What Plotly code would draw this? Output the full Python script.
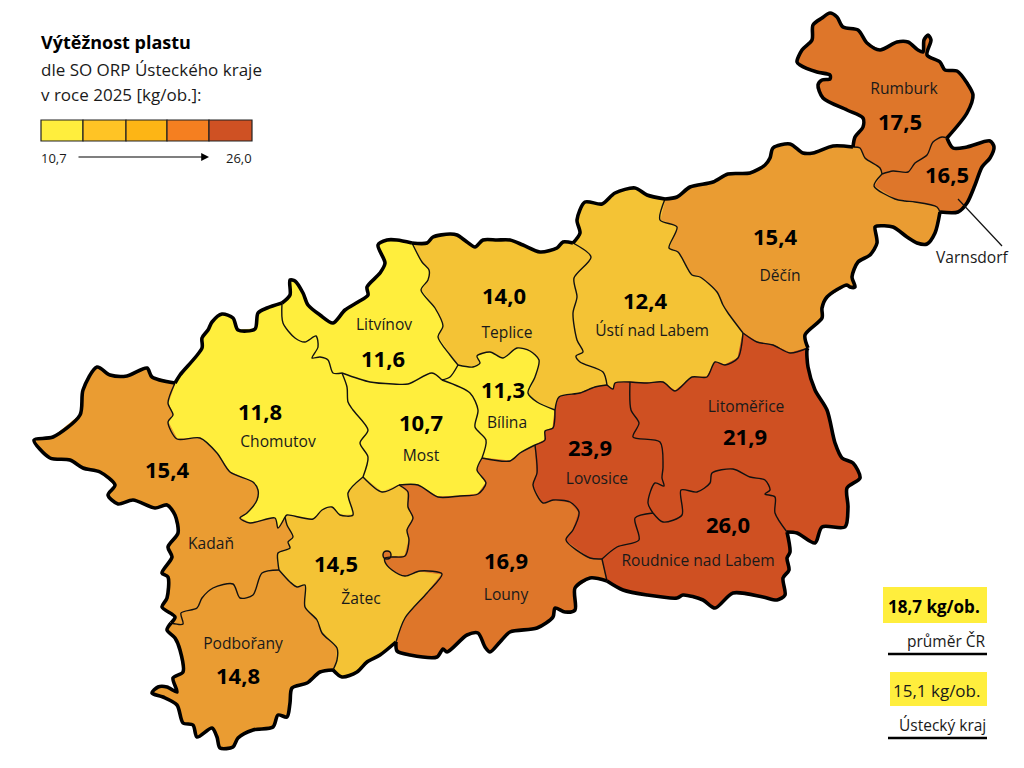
import plotly.graph_objects as go

# values
regions = ["Rumburk", "Varnsdorf", "Děčín", "Ústí nad Labem", "Teplice", "Litvínov", "Bílina", "Most",
           "Chomutov", "Kadaň", "Podbořany", "Žatec", "Louny", "Lovosice", "Litoměřice", "Roudnice nad Labem"]
values = [17.5, 16.5, 15.4, 12.4, 14.0, 11.6, 11.3, 10.7, 11.8, 15.4, 14.8, 14.5, 16.9, 23.9, 21.9, 26.0]

scale_colors = ["#FFEE3D", "#FFC425", "#FDB515", "#F57F20", "#CF5123"]
limit_low = "10,7"
limit_high = "26,0"
cr_avg = "18,7 kg/ob."
kraj_avg = "15,1 kg/ob."

# borders, outer ones go clockwise
outer_chomutov = [[175,383],[180,375],[202,348],[202,338],[208,330],[212,322],[222,314],[233,318],[238,330],[255,329],[258,313],[267,308],[282,303]]
outer_litvinov = [[282,303],[290,295],[290,280],[295,281],[303,293],[308,305],[320,315],[333,323],[345,310],[358,302],[368,295],[367,287],[380,273],[385,263],[378,245],[387,240],[397,240],[412,243]]
outer_teplice = [[412,243],[427,243],[433,237],[450,234],[457,235],[467,242],[475,247],[483,240],[497,240],[510,240],[523,245],[540,252],[557,248],[563,242],[573,243]]
outer_usti = [[573,243],[580,233],[577,220],[585,202],[602,204],[615,193],[635,188],[647,195],[665,199]]
outer_decin_n = [[665,199],[677,197],[690,187],[713,182],[728,174],[750,173],[765,165],[770,158],[773,148],[790,144],[803,153],[813,153],[833,146],[853,147]]
outer_rumburk = [[853,147],[855,137],[863,127],[863,118],[847,110],[823,98],[818,85],[822,80],[830,79],[830,75],[817,72],[800,65],[797,62],[802,50],[812,40],[813,25],[822,18],[830,13],[837,17],[843,27],[858,30],[867,43],[880,50],[897,42],[908,42],[918,50],[923,52],[924,40],[928,35],[931,40],[927,55],[940,62],[945,70],[957,71],[967,83],[973,95],[967,113],[947,138]]
outer_varnsdorf = [[947,138],[953,148],[967,147],[990,141],[994,147],[990,158],[982,167],[975,185],[967,203],[958,212],[940,212]]
outer_decin_e = [[940,212],[935,233],[927,244],[917,243],[907,237],[893,227],[877,226],[875,227],[877,243],[870,255],[858,262],[852,277],[855,287],[850,287],[847,285],[827,297],[822,308],[822,318],[805,335],[808,348]]
outer_litomerice = [[808,348],[807,350],[808,367],[815,390],[827,410],[835,443],[842,458],[853,463],[860,478],[847,488],[848,507],[845,527],[822,527],[815,543],[797,533],[787,532]]
outer_roudnice = [[787,532],[790,552],[787,558],[789,570],[783,578],[785,595],[777,600],[763,597],[733,593],[715,608],[703,600],[683,595],[677,598],[647,595],[623,590],[607,581]]
outer_louny = [[607,581],[590,578],[575,588],[575,610],[565,612],[555,608],[553,617],[537,628],[510,632],[500,642],[490,652],[485,647],[478,633],[467,635],[447,652],[443,649],[437,657],[410,655],[397,651],[396,642]]
outer_zatec = [[396,642],[380,655],[367,662],[357,672],[342,677],[333,670]]
outer_podborany = [[333,670],[320,672],[307,683],[292,688],[290,703],[287,717],[278,715],[273,727],[253,730],[238,738],[233,747],[220,748],[217,737],[212,728],[197,737],[193,725],[183,723],[177,705],[163,697],[152,693],[158,687],[167,687],[177,692],[173,678],[183,672],[180,650],[175,638],[167,630],[171,623]]
outer_kadan = [[171,623],[175,617],[162,607],[167,598],[168,577],[162,573],[172,557],[168,547],[178,533],[175,515],[167,505],[155,508],[133,500],[118,504],[108,495],[115,485],[100,472],[83,468],[70,460],[50,458],[34,440],[53,437],[80,415],[83,390],[97,367],[110,375],[127,376],[147,368],[152,377],[175,383]]

rumburk_decin = [[853,147],[860,148],[865,158],[880,168],[882,174]]
rumburk_varnsdorf = [[882,174],[893,171],[908,172],[915,163],[927,155],[933,142],[942,137],[947,138]]
varnsdorf_decin = [[882,174],[874,186],[895,199],[905,201],[915,202],[937,207],[940,212]]
usti_decin = [[743,333],[728,313],[723,305],[717,292],[700,277],[692,275],[678,252],[669,248],[677,227],[660,220],[665,199]]
decin_litomerice = [[743,333],[757,342],[773,345],[790,353],[808,348]]
usti_litomerice = [[630,382],[647,383],[663,382],[675,391],[692,377],[707,377],[715,362],[725,365],[738,358],[743,333]]
usti_lovosice = [[607,385],[613,389],[615,383],[630,382]]
teplice_usti = [[607,385],[603,372],[580,362],[576,356],[583,352],[577,340],[573,313],[577,297],[574,278],[591,257],[573,243]]
lovosice_teplice = [[555,410],[559,397],[580,393],[595,387],[607,385]]
bilina_teplice = [[458,365],[473,367],[480,363],[477,356],[490,352],[503,358],[517,348],[530,351],[539,360],[535,377],[528,393],[537,402],[555,410]]
litvinov_teplice = [[458,365],[450,355],[438,337],[443,326],[435,308],[421,290],[428,280],[429,270],[422,262],[412,243]]
litvinov_bilina = [[442,380],[450,377],[458,365]]
litvinov_most = [[342,373],[370,382],[393,384],[408,384],[432,373],[442,380]]
chomutov_litvinov = [[342,373],[333,373],[328,360],[320,357],[312,358],[318,347],[316,336],[305,342],[295,338],[283,323],[282,303]]
chomutov_most = [[363,477],[368,457],[360,443],[368,430],[353,410],[348,402],[347,387],[342,373]]
chomutov_zatec = [[285,517],[287,515],[313,519],[322,510],[332,507],[340,515],[353,515],[348,493],[363,477]]
kadan_chomutov = [[175,383],[168,403],[173,415],[168,422],[177,439],[200,438],[217,453],[230,472],[253,482],[258,490],[257,500],[247,513],[240,518],[250,523],[275,518],[278,528],[285,517]]
kadan_zatec = [[285,517],[287,525],[293,537],[288,542],[290,548],[278,553],[278,563],[279,570]]
kadan_podborany = [[171,623],[183,624],[181,613],[197,608],[202,598],[213,588],[233,584],[240,598],[253,595],[262,573],[279,570]]
podborany_zatec = [[279,570],[290,582],[297,587],[305,585],[305,607],[317,620],[322,633],[337,648],[337,660],[333,670]]
most_zatec = [[363,477],[382,492],[399,485]]
most_louny = [[399,485],[418,485],[438,497],[460,496],[478,494],[486,483],[477,470],[482,458]]
most_bilina = [[442,380],[470,393],[478,410],[475,427],[486,440],[482,458]]
bilina_louny = [[535,445],[520,453],[510,461],[482,458]]
bilina_lovosice = [[555,410],[553,428],[545,431],[545,440],[535,445]]
lovosice_louny = [[535,445],[537,473],[533,485],[543,503],[553,500],[570,502],[579,512],[573,530],[566,540],[590,558],[602,559]]
louny_roudnice = [[602,559],[607,581]]
lovosice_roudnice = [[653,513],[635,518],[639,540],[617,547],[602,559]]
lovosice_litomerice = [[630,382],[631,410],[639,423],[633,437],[660,442],[663,467],[662,478],[664,486],[655,483],[648,503],[653,513]]
litomerice_roudnice = [[653,513],[663,522],[682,515],[681,490],[697,492],[710,483],[712,473],[733,469],[750,477],[765,480],[770,490],[765,494],[775,497],[775,513],[787,532]]
zatec_louny = [[399,485],[408,492],[408,507],[413,518],[407,530],[409,540],[405,556],[392,557],[385,558],[385,562],[392,570],[405,576],[420,571],[442,574],[427,593],[405,618],[396,642]]
louny_islet = [[387,551],[390,552],[391,555],[390,558],[387,559],[384,558],[383,555],[384,552],[387,551]]


def r(arc):
    return arc[::-1]


shapes_by_region = {
    "Rumburk": outer_rumburk + r(rumburk_varnsdorf) + r(rumburk_decin),
    "Varnsdorf": rumburk_varnsdorf + outer_varnsdorf + r(varnsdorf_decin),
    "Děčín": outer_decin_n + rumburk_decin + varnsdorf_decin + outer_decin_e + r(decin_litomerice) + usti_decin,
    "Ústí nad Labem": outer_usti + r(usti_decin) + r(usti_litomerice) + r(usti_lovosice) + teplice_usti,
    "Teplice": outer_teplice + r(teplice_usti) + r(lovosice_teplice) + r(bilina_teplice) + litvinov_teplice,
    "Litvínov": outer_litvinov + r(litvinov_teplice) + r(litvinov_bilina) + r(litvinov_most) + chomutov_litvinov,
    "Bílina": bilina_teplice + bilina_lovosice + bilina_louny + r(most_bilina) + litvinov_bilina,
    "Most": litvinov_most + most_bilina + r(most_louny) + r(most_zatec) + chomutov_most,
    "Chomutov": outer_chomutov + r(chomutov_litvinov) + r(chomutov_most) + r(chomutov_zatec) + r(kadan_chomutov),
    "Kadaň": outer_kadan + kadan_chomutov + kadan_zatec + r(kadan_podborany),
    "Podbořany": kadan_podborany + podborany_zatec + outer_podborany,
    "Žatec": chomutov_zatec + most_zatec + zatec_louny + outer_zatec + r(podborany_zatec) + r(kadan_zatec),
    "Louny": most_louny + r(bilina_louny) + lovosice_louny + louny_roudnice + outer_louny + r(zatec_louny),
    "Lovosice": usti_lovosice + lovosice_litomerice + lovosice_roudnice + r(lovosice_louny) + r(bilina_lovosice) + lovosice_teplice,
    "Litoměřice": usti_litomerice + decin_litomerice + outer_litomerice + r(litomerice_roudnice) + r(lovosice_litomerice),
    "Roudnice nad Labem": litomerice_roudnice + outer_roudnice + r(louny_roudnice) + r(lovosice_roudnice),
}

inner_borders = [rumburk_decin, rumburk_varnsdorf, varnsdorf_decin, usti_decin, decin_litomerice, usti_litomerice,
                 usti_lovosice, teplice_usti, lovosice_teplice, bilina_teplice, litvinov_teplice, litvinov_bilina,
                 litvinov_most, chomutov_litvinov, chomutov_most, chomutov_zatec, kadan_chomutov, kadan_zatec,
                 kadan_podborany, podborany_zatec, most_zatec, most_louny, most_bilina, bilina_louny, bilina_lovosice,
                 lovosice_louny, louny_roudnice, lovosice_roudnice, lovosice_litomerice, litomerice_roudnice,
                 zatec_louny, louny_islet]
outer_borders = [outer_chomutov, outer_litvinov, outer_teplice, outer_usti, outer_decin_n, outer_rumburk, outer_varnsdorf,
                 outer_decin_e, outer_litomerice, outer_roudnice, outer_louny, outer_zatec, outer_podborany, outer_kadan]

# label places, same order as regions
name_pos = [(904,90),(0,0),(780,277),(652,332),(507,334),(384,326),(507,424),(421,457),
            (278,443),(211,545),(243,645),(361,600),(506,596),(597,480),(746,408),(698,562)]
value_pos = [(900,124),(947,177),(775,239),(645,303),(504,298),(383,361),(503,392),(421,425),
             (260,414),(167,472),(238,678),(336,566),(506,563),(590,450),(745,439),(728,527)]

FONT = "Open Sans"


def region_color(v):
    if v < 12:
        return "#FFEE3D"
    if v < 14.6:
        return "#F4C335"
    if v < 16:
        return "#EA9C32"
    if v < 20:
        return "#DE762A"
    return "#CF5022"


def fmt(v):
    return f"{v:.1f}".replace(".", ",")


fig = go.Figure()

for name, v in zip(regions, values):
    pts = shapes_by_region[name]
    c = region_color(v)
    fig.add_trace(go.Scatter(x=[p[0] for p in pts], y=[p[1] for p in pts], mode="lines", fill="toself",
                             fillcolor=c, line=dict(color=c, width=1), name=name, hoverinfo="name"))

# little islet of Louny inside Žatec
fig.add_trace(go.Scatter(x=[p[0] for p in louny_islet], y=[p[1] for p in louny_islet], mode="lines", fill="toself",
                         fillcolor=region_color(16.9), line=dict(color=region_color(16.9), width=1), hoverinfo="skip"))

for arc in inner_borders:
    fig.add_trace(go.Scatter(x=[p[0] for p in arc], y=[p[1] for p in arc], mode="lines",
                             line=dict(color="#111111", width=1.4, shape="spline", smoothing=0.8), hoverinfo="skip"))
for arc in outer_borders:
    fig.add_trace(go.Scatter(x=[p[0] for p in arc], y=[p[1] for p in arc], mode="lines",
                             line=dict(color="#000000", width=3.6, shape="spline", smoothing=0.8), hoverinfo="skip"))

# Varnsdorf leader line
fig.add_trace(go.Scatter(x=[958, 1002], y=[199, 246], mode="lines", line=dict(color="#111111", width=1.2), hoverinfo="skip"))

names_shown = [i for i, n in enumerate(regions) if n != "Varnsdorf"]
fig.add_trace(go.Scatter(x=[name_pos[i][0] for i in names_shown], y=[name_pos[i][1] for i in names_shown],
                         text=[regions[i] for i in names_shown], mode="text", textposition="middle center",
                         textfont=dict(family=FONT, size=15.6, color="#1a1a1a"), hoverinfo="skip"))
fig.add_trace(go.Scatter(x=[p[0] for p in value_pos], y=[p[1] for p in value_pos], text=[fmt(v) for v in values],
                         mode="text", textposition="middle center",
                         textfont=dict(family=FONT, size=22, color="#000000", weight="bold"), hoverinfo="skip"))

# colour scale
edges = [41, 83, 126, 167, 209, 252]
for i, c in enumerate(scale_colors):
    fig.add_shape(type="rect", x0=edges[i], x1=edges[i + 1], y0=120, y1=141, fillcolor=c,
                  line=dict(color="#222222", width=1.2), layer="above")

# yellow boxes and rules
fig.add_shape(type="rect", x0=883, x1=987, y0=587, y1=623, fillcolor="#FFEE3D", line_width=0, layer="below")
fig.add_shape(type="rect", x0=890, x1=987, y0=672, y1=706, fillcolor="#FFEE3D", line_width=0, layer="below")
fig.add_shape(type="line", x0=888, x1=987, y0=654, y1=654, line=dict(color="#000000", width=2.5))
fig.add_shape(type="line", x0=888, x1=987, y0=738, y1=738, line=dict(color="#000000", width=2.5))


def add_text(x, y, text, size, anchor="left", color="#1a1a1a"):
    fig.add_annotation(x=x, y=y, text=text, showarrow=False, xanchor=anchor, yanchor="middle",
                       font=dict(family=FONT, size=size, color=color))


add_text(39, 42, "<b>Výtěžnost plastu</b>", 18, color="#000000")
add_text(39, 69, "dle SO ORP Ústeckého kraje", 17)
add_text(39, 94, "v roce 2025 [kg/ob.]:", 17)
add_text(39, 158, limit_low, 13)
add_text(254, 158, limit_high, 13, anchor="right")
add_text(982, 606, f"<b>{cr_avg}</b>", 17, anchor="right", color="#000000")
add_text(988, 641, "průměr ČR", 15.5, anchor="right")
add_text(982, 690, kraj_avg, 17, anchor="right")
add_text(988, 725, "Ústecký kraj", 15.5, anchor="right")
add_text(972, 257, "Varnsdorf", 15.6, anchor="center")

fig.add_annotation(x=209, y=157, ax=77, ay=157, xref="x", yref="y", axref="x", ayref="y", text="", showarrow=True,
                   arrowhead=2, arrowsize=1.3, arrowwidth=1.2, arrowcolor="#000000")

fig.update_xaxes(range=[0, 1024], visible=False, fixedrange=True)
fig.update_yaxes(range=[768, 0], visible=False, fixedrange=True)
fig.update_layout(width=1024, height=768, margin=dict(l=0, r=0, t=0, b=0), showlegend=False,
                  plot_bgcolor="white", paper_bgcolor="white")

fig.write_html("out.html", config={"displayModeBar": False},
               post_script="document.body.style.margin='0';document.body.style.overflow='hidden';")
